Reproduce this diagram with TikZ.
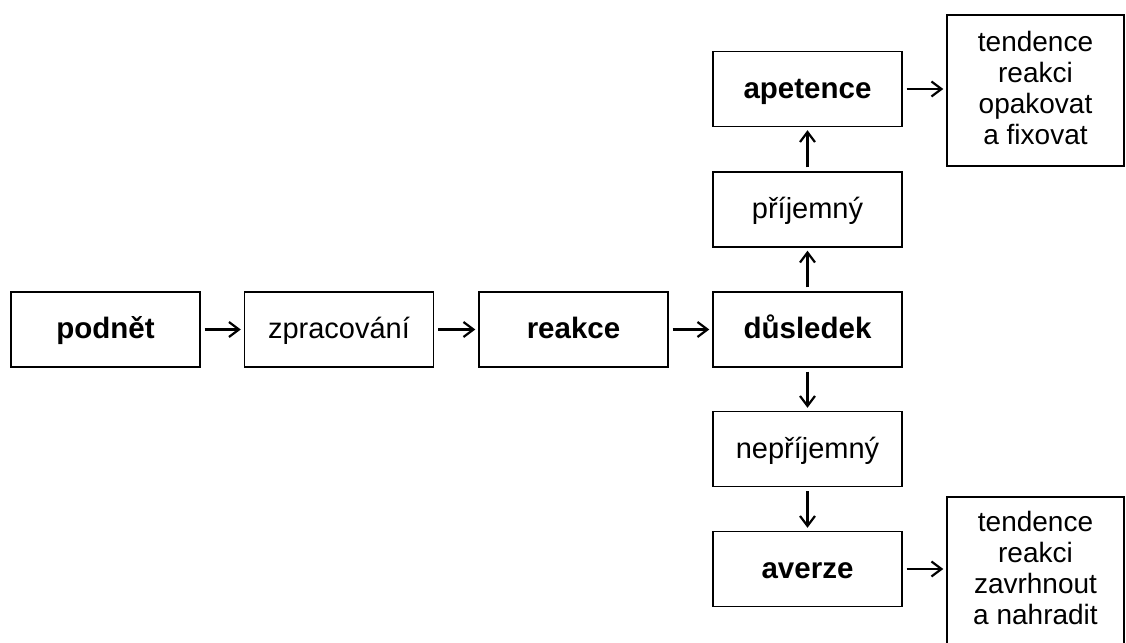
\documentclass[tikz,border=0pt]{standalone}
\usepackage{fontspec}
\setmainfont{Liberation Sans}
\usetikzlibrary{arrows.meta}
\begin{document}
\begin{tikzpicture}[x=1pt,y=-1pt,
  box/.style={draw=black,line width=1.4pt,minimum width=189pt,minimum height=75pt,
    inner sep=0pt,align=center,text height=18pt,text depth=0pt,
    font=\fontsize{29}{31}\selectfont},
  keybox/.style={box,font=\fontsize{29.5}{31}\selectfont\bfseries},
  outbox/.style={draw=black,line width=1.4pt,minimum width=177pt,minimum height=151pt,
    inner sep=0pt,align=center,text depth=9pt,font=\fontsize{28}{31}\selectfont},
  flow/.style={line width=2.5pt,-{Straight Barb[length=10pt,width=15pt,line width=2.2pt]},
    shorten <=4pt,shorten >=3pt}]
\useasboundingbox (0,0) rectangle (1126,642);
% main chain
\node[keybox] (podnet) at (105.5,329.5) {podnět};
\node[box]    (zprac)  at (339,329.5)   {zpracování};
\node[keybox] (reakce) at (573.5,329.5) {reakce};
\node[keybox] (dusl)   at (807.5,329.5) {důsledek};
% pleasant branch
\node[box]    (prij)   at (807.5,209.5) {příjemný};
\node[keybox] (apet)   at (807.5,89)    {apetence};
\node[outbox,text depth=5pt] (tend1) at (1035.5,90.5) {tendence\\reakci\\opakovat\\a fixovat};
% unpleasant branch
\node[box]    (neprij) at (807.5,449)   {nepříjemný};
\node[keybox] (averze) at (807.5,569)   {averze};
\node[outbox] (tend2)  at (1035.5,572.5) {tendence\\reakci\\zavrhnout\\a nahradit};
% connectors
\draw[flow] (podnet) -- (zprac);
\draw[flow] (zprac) -- (reakce);
\draw[flow] (reakce) -- (dusl);
\draw[flow] (dusl) -- (prij);
\draw[flow] (prij) -- (apet);
\draw[flow] (dusl) -- (neprij);
\draw[flow] (neprij) -- (averze);
\draw[flow] (apet.east) -- (apet.east -| tend1.west);
\draw[flow] (averze.east) -- (averze.east -| tend2.west);
\end{tikzpicture}
\end{document}
